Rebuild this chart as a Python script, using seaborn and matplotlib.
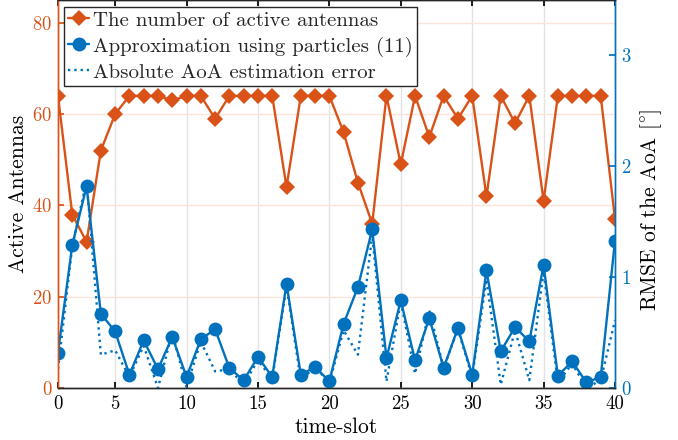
import numpy as np
import matplotlib
matplotlib.use("Agg")
import matplotlib.pyplot as plt
import seaborn as sns

# time-slot index (plotted 1..40, first tick labelled "0" as in the source figure)
time_slot = np.arange(1, 41)

active_antennas = [64, 38, 32, 52, 60, 64, 64, 64, 63, 64,
                   64, 59, 64, 64, 64, 64, 44, 64, 64, 64,
                   56, 45, 36, 64, 49, 64, 55, 64, 59, 64,
                   42, 64, 58, 64, 41, 64, 64, 64, 64, 37]

rmse_particles = [0.32, 1.29, 1.82, 0.67, 0.51, 0.12, 0.43, 0.17, 0.46, 0.10,
                  0.44, 0.53, 0.18, 0.07, 0.28, 0.10, 0.94, 0.12, 0.19, 0.06,
                  0.58, 0.91, 1.43, 0.27, 0.79, 0.25, 0.63, 0.18, 0.54, 0.12,
                  1.06, 0.33, 0.55, 0.42, 1.11, 0.11, 0.24, 0.05, 0.10, 1.33]

abs_error = [0.17, 1.28, 1.87, 0.30, 0.34, 0.10, 0.38, 0.00, 0.50, 0.01,
             0.42, 0.15, 0.17, 0.03, 0.25, 0.08, 0.92, 0.07, 0.19, 0.05,
             0.52, 0.30, 1.38, 0.06, 0.78, 0.13, 0.70, 0.18, 0.53, 0.10,
             0.98, 0.03, 0.52, 0.07, 1.05, 0.05, 0.22, 0.00, 0.07, 0.61]

xtick_pos = [1, 5, 10, 15, 20, 25, 30, 35, 40]
xtick_labels = ["0", "5", "10", "15", "20", "25", "30", "35", "40"]

ORANGE = "#D95319"
BLUE = "#0072BD"

sns.set_theme(style="white")
plt.rcParams["font.family"] = ["cmr10", "DejaVu Serif"]
plt.rcParams["mathtext.fontset"] = "cm"
plt.rcParams["axes.formatter.use_mathtext"] = True
plt.rcParams["xtick.direction"] = "in"
plt.rcParams["ytick.direction"] = "in"

fig = plt.figure(figsize=(6.78, 4.40), dpi=100)
ax = fig.add_axes([58 / 678, 1 - 388 / 440, (615 - 58) / 678, 388 / 440])
ax2 = ax.twinx()

# grid: vertical grey from x ticks, horizontal light orange from left axis
ax.set_axisbelow(True)
for xv in xtick_pos[1:-1]:
    ax.axvline(xv, color="#e3e3e3", lw=1, zorder=0)
ax.yaxis.grid(True, color="#fbe4da", lw=1)

sns.lineplot(x=time_slot, y=active_antennas, ax=ax, color=ORANGE, lw=1.7,
             marker="D", markersize=8.5, markeredgewidth=0,
             label="The number of active antennas", legend=False)
sns.lineplot(x=time_slot, y=abs_error, ax=ax2, color=BLUE, lw=1.7,
             linestyle=":", label="Absolute AoA estimation error", legend=False)
sns.lineplot(x=time_slot, y=rmse_particles, ax=ax2, color=BLUE, lw=1.7,
             marker="o", markersize=10, markeredgewidth=0,
             label="Approximation using particles (11)", legend=False)

ax.set_xlim(1, 40)
ax.set_ylim(0, 85)
ax2.set_ylim(0, 3.5)
ax.set_xticks(xtick_pos)
ax.set_xticklabels(xtick_labels)
ax.set_yticks([0, 20, 40, 60, 80])
ax2.set_yticks([0, 1, 2, 3])

ax.tick_params(axis="x", colors="black", labelsize=13.5, length=4, top=True,
               bottom=True, pad=5)
ax.tick_params(axis="y", colors=ORANGE, labelsize=13.5, length=4, left=True, pad=4)
ax2.tick_params(axis="y", colors=BLUE, labelsize=13.5, length=4, right=True, pad=4)
ax2.tick_params(axis="x", top=False, bottom=False)

ax.set_xlabel("time-slot", fontsize=15.5, color="black", labelpad=3)
ax.set_ylabel("Active Antennas", fontsize=15.5, color="black", labelpad=3)
ax2.set_ylabel(r"RMSE of the AoA [$^{\circ}$]", fontsize=15.5, color="black",
               labelpad=5)
ax2.yaxis.label.set_y(0.46)

for a in (ax, ax2):
    for s in a.spines.values():
        s.set_linewidth(1.0)
        s.set_color("#262626")
ax2.spines["left"].set_color(ORANGE)
ax2.spines["right"].set_color(BLUE)
ax.spines["left"].set_color(ORANGE)
ax.spines["right"].set_color(BLUE)

h1, l1 = ax.get_legend_handles_labels()
h2, l2 = ax2.get_legend_handles_labels()
handles = [h1[0], h2[1], h2[0]]
labels = [l1[0], l2[1], l2[0]]
leg = ax2.legend(handles, labels, loc="upper left", bbox_to_anchor=(0.011, 0.982),
                 borderaxespad=0, fontsize=15, handlelength=1.0,
                 handletextpad=0.2, labelspacing=0.32, borderpad=0.2,
                 fancybox=False, framealpha=1, edgecolor="#262626")
leg.get_frame().set_linewidth(1.0)

fig.savefig("out.png", dpi=100)
